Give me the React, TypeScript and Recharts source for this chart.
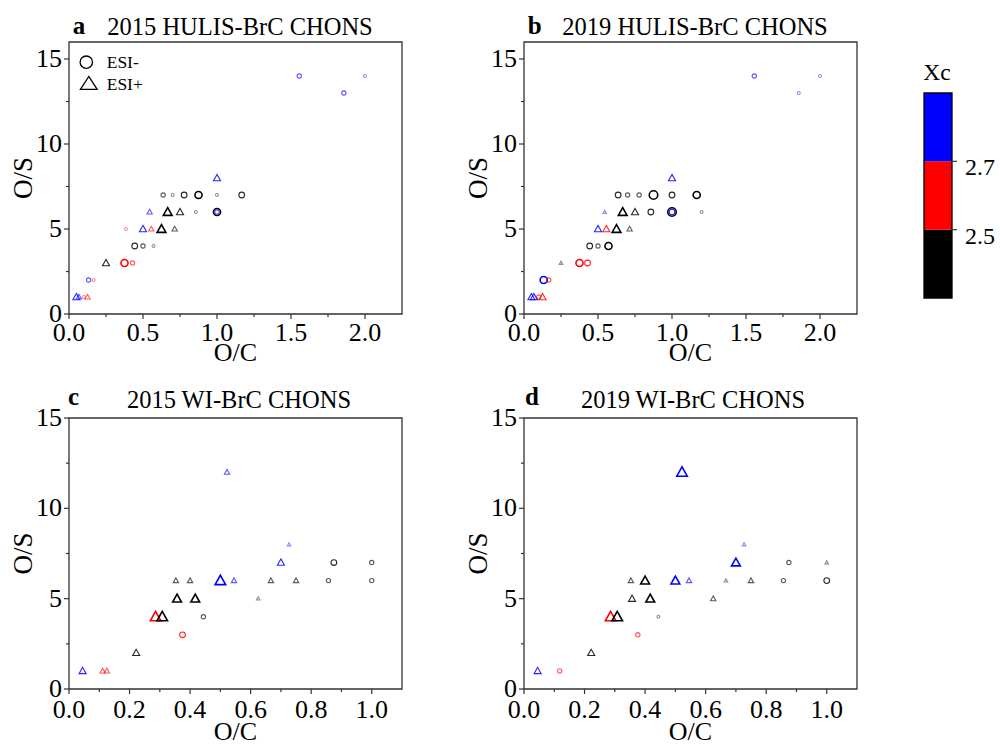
import React from "react";
import { ScatterChart, Scatter, XAxis, YAxis, ReferenceArea, Legend, Label } from "recharts";

type Pt = { oc: number; os: number; xc: number; w: number };
// oc = O/C, os = O/S, xc = aromaticity index, w = relative intensity (1..5)
const p = (oc: number, os: number, xc: number, w: number): Pt => ({ oc, os, xc, w });

const hulis2015Neg: Pt[] = [
  p(1.556, 14, 2.8, 2), p(2.0, 14, 2.8, 1), p(1.857, 13, 2.8, 2),
  p(0.636, 7, 2.4, 2), p(0.7, 7, 2.4, 1), p(0.778, 7, 2.4, 3), p(0.875, 7, 2.4, 4), p(1.0, 7, 2.4, 1), p(1.167, 7, 2.4, 3),
  p(0.857, 6, 2.4, 1), p(1.0, 6, 2.4, 4), p(1.0, 6, 2.8, 2),
  p(0.385, 5, 2.6, 1),
  p(0.444, 4, 2.4, 3), p(0.5, 4, 2.4, 2), p(0.571, 4, 2.4, 1),
  p(0.375, 3, 2.6, 4), p(0.429, 3, 2.6, 2),
  p(0.133, 2, 2.8, 2), p(0.167, 2, 2.6, 1),
  p(0.1, 1, 2.6, 1),
];
const hulis2015Pos: Pt[] = [
  p(1.0, 8, 2.8, 3),
  p(0.545, 6, 2.8, 2), p(0.667, 6, 2.4, 4), p(0.75, 6, 2.4, 3),
  p(0.5, 5, 2.8, 3), p(0.556, 5, 2.6, 2), p(0.625, 5, 2.4, 4), p(0.714, 5, 2.4, 2),
  p(0.25, 3, 2.4, 3),
  p(0.05, 1, 2.8, 3), p(0.067, 1, 2.8, 2), p(0.125, 1, 2.6, 2),
];

const hulis2019Neg: Pt[] = [
  p(1.556, 14, 2.8, 2), p(2.0, 14, 2.8, 1), p(1.857, 13, 2.8, 1),
  p(0.636, 7, 2.4, 3), p(0.7, 7, 2.4, 2), p(0.778, 7, 2.4, 2), p(0.875, 7, 2.4, 5), p(1.0, 7, 2.4, 3), p(1.167, 7, 2.4, 4),
  p(0.857, 6, 2.4, 3), p(1.0, 6, 2.4, 5), p(1.0, 6, 2.8, 3), p(1.2, 6, 2.4, 1),
  p(0.444, 4, 2.4, 3), p(0.5, 4, 2.4, 2), p(0.571, 4, 2.4, 4),
  p(0.375, 3, 2.6, 4), p(0.429, 3, 2.6, 3),
  p(0.133, 2, 2.8, 4), p(0.167, 2, 2.6, 2),
  p(0.1, 1, 2.6, 2),
];
const hulis2019Pos: Pt[] = [
  p(1.0, 8, 2.8, 3),
  p(0.545, 6, 2.8, 1), p(0.667, 6, 2.4, 4), p(0.75, 6, 2.4, 3),
  p(0.5, 5, 2.8, 3), p(0.556, 5, 2.6, 3), p(0.625, 5, 2.4, 4), p(0.714, 5, 2.4, 2),
  p(0.25, 3, 2.4, 1),
  p(0.05, 1, 2.8, 3), p(0.067, 1, 2.8, 3), p(0.125, 1, 2.6, 3),
];

const wi2015Neg: Pt[] = [
  p(0.875, 7, 2.4, 3), p(1.0, 7, 2.4, 2),
  p(0.857, 6, 2.4, 2), p(1.0, 6, 2.4, 2),
  p(0.444, 4, 2.4, 2),
  p(0.375, 3, 2.6, 3),
];
const wi2015Pos: Pt[] = [
  p(0.522, 12, 2.8, 2), p(0.727, 8, 2.8, 1), p(0.7, 7, 2.8, 3),
  p(0.353, 6, 2.4, 2), p(0.4, 6, 2.4, 2), p(0.5, 6, 2.8, 5), p(0.545, 6, 2.8, 2), p(0.667, 6, 2.4, 2), p(0.75, 6, 2.4, 2),
  p(0.357, 5, 2.4, 4), p(0.417, 5, 2.4, 4), p(0.625, 5, 2.4, 1),
  p(0.286, 4, 2.6, 5), p(0.308, 4, 2.4, 5),
  p(0.222, 2, 2.4, 3),
  p(0.045, 1, 2.8, 3), p(0.111, 1, 2.6, 2), p(0.125, 1, 2.6, 2),
];

const wi2019Neg: Pt[] = [
  p(0.875, 7, 2.4, 2),
  p(0.857, 6, 2.4, 2), p(1.0, 6, 2.4, 3),
  p(0.444, 4, 2.4, 1),
  p(0.376, 3, 2.6, 2),
  p(0.118, 1, 2.6, 2),
];
const wi2019Pos: Pt[] = [
  p(0.522, 12, 2.8, 5), p(0.727, 8, 2.8, 1), p(0.7, 7, 2.8, 4), p(1.0, 7, 2.4, 1),
  p(0.353, 6, 2.4, 2), p(0.4, 6, 2.4, 4), p(0.5, 6, 2.8, 4), p(0.545, 6, 2.8, 2), p(0.667, 6, 2.4, 1), p(0.75, 6, 2.4, 2),
  p(0.357, 5, 2.4, 3), p(0.417, 5, 2.4, 4), p(0.625, 5, 2.4, 2),
  p(0.286, 4, 2.6, 5), p(0.308, 4, 2.4, 5),
  p(0.222, 2, 2.4, 3),
  p(0.045, 1, 2.8, 3),
];

const hulisOcTicks = [0, 0.25, 0.5, 0.75, 1.0, 1.25, 1.5, 1.75, 2.0];
const wiOcTicks = [0, 0.1, 0.2, 0.3, 0.4, 0.5, 0.6, 0.7, 0.8, 0.9, 1.0];
const osTicks = [0, 2.5, 5, 7.5, 10, 12.5, 15];
const xcBounds = [2.3, 2.5, 2.7, 2.9];
const xcTicks = [2.5, 2.7];

const XC_COLORS = ["#000000", "#ff0000", "#0000ff"];
const AXIS = "#333";
const FONT = "Liberation Serif";

const xcColor = (xc: number) => (xc >= 2.7 ? XC_COLORS[2] : xc >= 2.5 ? XC_COLORS[1] : XC_COLORS[0]);

function Mark({ cx, cy, payload, kind }: any) {
  if (cx == null || cy == null) return null;
  const d = 1.5 + payload.w * 1.4;
  const color = xcColor(payload.xc);
  const op = Math.min(1, 0.25 + payload.w * 0.2);
  const sw = payload.w >= 4 ? 1.6 : 1.1;
  if (kind === "tri") {
    const h = d * 1.05;
    const half = d * 0.62;
    const pts = `${cx},${cy - h * 0.6} ${cx - half},${cy + h * 0.45} ${cx + half},${cy + h * 0.45}`;
    return <polygon points={pts} fill="none" stroke={color} strokeOpacity={op} strokeWidth={sw} />;
  }
  return <circle cx={cx} cy={cy} r={d / 2} fill="none" stroke={color} strokeOpacity={op} strokeWidth={sw} />;
}

function XTick({ x, y, payload, major, dy }: any) {
  const v = payload.value;
  const isMajor = Math.abs(v / major - Math.round(v / major)) < 1e-6;
  return (
    <g>
      <line x1={x} x2={x} y1={y} y2={y + (isMajor ? 5 : 3)} stroke={AXIS} strokeWidth={1.2} />
      {isMajor && (
        <text x={x} y={y + dy} textAnchor="middle" fontSize={26} fontFamily={FONT} fill="#000">
          {v.toFixed(1)}
        </text>
      )}
    </g>
  );
}

function YTick({ x, y, payload }: any) {
  const v = payload.value;
  const isMajor = v % 5 === 0;
  return (
    <g>
      <line x1={x} x2={x - (isMajor ? 5 : 3)} y1={y} y2={y} stroke={AXIS} strokeWidth={1.2} />
      {isMajor && (
        <text x={x - 7} y={y + 8} textAnchor="end" fontSize={26} fontFamily={FONT} fill="#000">
          {v}
        </text>
      )}
    </g>
  );
}

function EsiLegend() {
  return (
    <svg width={100} height={46}>
      <circle cx={10.3} cy={12.2} r={6.2} fill="none" stroke="#000" strokeWidth={1.3} />
      <text x={30.7} y={18.3} fontSize={17.5} fontFamily={FONT} fill="#000">ESI-</text>
      <polygon points="12.8,26.5 4.4,39.3 21.2,39.3" fill="none" stroke="#000" strokeWidth={1.3} />
      <text x={30.7} y={40} fontSize={17.5} fontFamily={FONT} fill="#000">ESI+</text>
    </svg>
  );
}

function Panel({ left, top, height, plotH, neg, pos, xMax, xTicks, xMajor, yMax, tickDy, labelDy, legend }: any) {
  return (
    <div style={{ position: "absolute", left, top }}>
      <ScatterChart width={420} height={height} margin={{ top: 42, right: 18, left: 9, bottom: 0 }}>
        <XAxis
          type="number"
          dataKey="oc"
          domain={[0, xMax]}
          ticks={xTicks}
          interval={0}
          allowDataOverflow
          axisLine={false}
          tickLine={false}
          tickSize={0}
          tickMargin={0}
          height={height - 42 - plotH}
          tick={(t: any) => <XTick {...t} major={xMajor} dy={tickDy} />}
        >
          <Label
            content={({ viewBox }: any) => (
              <text x={viewBox.x + viewBox.width / 2} y={viewBox.y + labelDy} textAnchor="middle" fontSize={26} fontFamily={FONT} fill="#000">
                O/C
              </text>
            )}
          />
        </XAxis>
        <YAxis
          type="number"
          dataKey="os"
          domain={[0, yMax]}
          ticks={osTicks}
          interval={0}
          allowDataOverflow
          axisLine={false}
          tickLine={false}
          tickSize={0}
          tickMargin={0}
          width={60}
          tick={(t: any) => <YTick {...t} />}
        >
          <Label
            content={({ viewBox }: any) => {
              const cx = viewBox.x + 14;
              const cy = viewBox.y + viewBox.height / 2;
              return (
                <text x={cx} y={cy} transform={`rotate(-90, ${cx}, ${cy})`} textAnchor="middle" dominantBaseline="central" fontSize={27} fontFamily={FONT} fill="#000">
                  O/S
                </text>
              );
            }}
          />
        </YAxis>
        <ReferenceArea x1={0} x2={xMax} y1={0} y2={yMax} fill="none" stroke={AXIS} strokeWidth={1.3} strokeOpacity={1} />
        <Scatter data={neg} shape={(s: any) => <Mark {...s} kind="circle" />} isAnimationActive={false} />
        <Scatter data={pos} shape={(s: any) => <Mark {...s} kind="tri" />} isAnimationActive={false} />
        {legend && (
          <Legend
            layout="vertical"
            align="center"
            verticalAlign="middle"
            content={() => <EsiLegend />}
            wrapperStyle={{ left: 76, top: 50, width: 100, height: 46 }}
          />
        )}
      </ScatterChart>
    </div>
  );
}

const barAnchors = xcBounds.map((y) => ({ x: 0.5, y }));

function ColorBar() {
  return (
    <div style={{ position: "absolute", left: 900, top: 40 }}>
      <ScatterChart width={100} height={280} margin={{ top: 53, right: 0, left: 24, bottom: 22 }}>
        <XAxis type="number" dataKey="x" domain={[0, 1]} hide />
        <YAxis
          type="number"
          dataKey="y"
          orientation="right"
          domain={[xcBounds[0], xcBounds[xcBounds.length - 1]]}
          ticks={xcTicks}
          interval={0}
          allowDataOverflow
          axisLine={false}
          tickLine={false}
          tickSize={0}
          tickMargin={0}
          width={48}
          tick={({ x, y, payload }: any) => (
            <g>
              <line x1={x} x2={x + 5} y1={y} y2={y} stroke={AXIS} strokeWidth={1.2} />
              <text x={x + 13} y={y + 14} fontSize={24} fontFamily={FONT} fill="#000">
                {Number(payload.value).toFixed(1)}
              </text>
            </g>
          )}
        />
        {XC_COLORS.map((c, i) => (
          <ReferenceArea key={c} x1={0} x2={1} y1={xcBounds[i]} y2={xcBounds[i + 1]} fill={c} fillOpacity={1} stroke="none" />
        ))}
        <ReferenceArea x1={0} x2={1} y1={xcBounds[0]} y2={xcBounds[xcBounds.length - 1]} fill="none" stroke="#000" strokeWidth={1.3} strokeOpacity={1} />
        <Scatter data={barAnchors} shape={() => <g />} isAnimationActive={false} />
      </ScatterChart>
    </div>
  );
}

export default function App() {
  return (
    <div style={{ position: "absolute", left: 0, top: 0, width: 1000, height: 744, background: "#fff", fontFamily: FONT }}>
      <Panel left={0} top={0} height={380} plotH={272} neg={hulis2015Neg} pos={hulis2015Pos} xMax={2.25} xTicks={hulisOcTicks} xMajor={0.5} yMax={16} tickDy={27} labelDy={47} legend />
      <Panel left={455} top={0} height={380} plotH={272} neg={hulis2019Neg} pos={hulis2019Pos} xMax={2.25} xTicks={hulisOcTicks} xMajor={0.5} yMax={16} tickDy={27} labelDy={47} />
      <Panel left={0} top={376} height={368} plotH={271} neg={wi2015Neg} pos={wi2015Pos} xMax={1.1} xTicks={wiOcTicks} xMajor={0.2} yMax={15} tickDy={29} labelDy={51} />
      <Panel left={455} top={376} height={368} plotH={271} neg={wi2019Neg} pos={wi2019Pos} xMax={1.1} xTicks={wiOcTicks} xMajor={0.2} yMax={15} tickDy={29} labelDy={51} />
      <ColorBar />
      <svg width={1000} height={744} style={{ position: "absolute", left: 0, top: 0, pointerEvents: "none" }}>
        <g fontSize={24.5} fontFamily={FONT} fill="#000">
          <text x={72.7} y={34} fontWeight="bold" fontSize={25}>a</text>
          <text x={240} y={35} textAnchor="middle">2015 HULIS-BrC CHONS</text>
          <text x={527.7} y={34} fontWeight="bold" fontSize={25}>b</text>
          <text x={695} y={35} textAnchor="middle">2019 HULIS-BrC CHONS</text>
          <text x={68} y={405} fontWeight="bold" fontSize={25}>c</text>
          <text x={239} y={408} textAnchor="middle">2015 WI-BrC CHONS</text>
          <text x={525} y={405} fontWeight="bold" fontSize={25}>d</text>
          <text x={693} y={408} textAnchor="middle">2019 WI-BrC CHONS</text>
          <text x={937} y={80} textAnchor="middle" fontSize={23.5}>Xc</text>
        </g>
      </svg>
    </div>
  );
}
